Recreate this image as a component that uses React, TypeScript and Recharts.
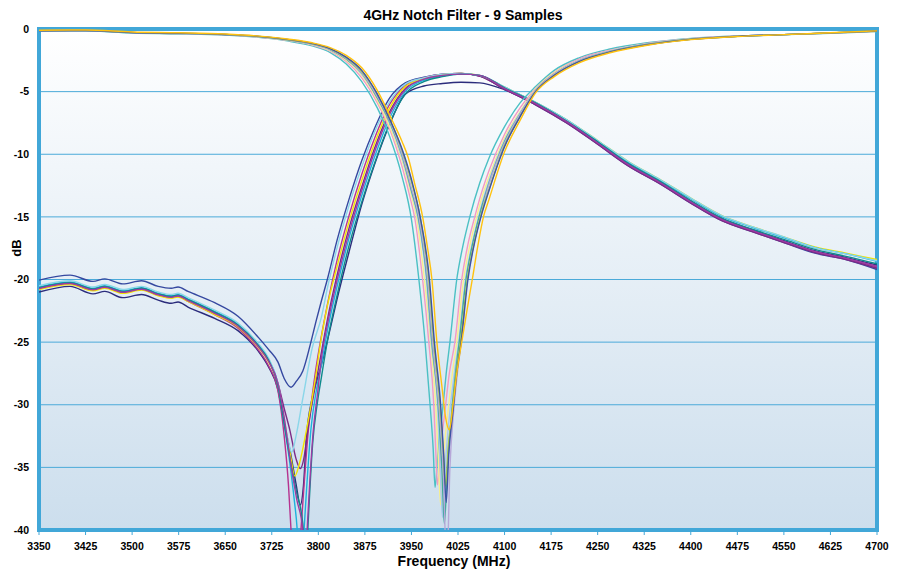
import React from 'react';
import { LineChart, Line, XAxis, YAxis, CartesianGrid, ReferenceArea } from 'recharts';

// frequency grids (MHz)
const X_TICKS = [3350, 3425, 3500, 3575, 3650, 3725, 3800, 3875, 3950, 4025, 4100, 4175, 4250, 4325, 4400, 4475, 4550, 4625, 4700];
const Y_TICKS = [0, -5, -10, -15, -20, -25, -30, -35, -40];

// notch (S21) curves: shared grid left / right of the notch, own points in the notch
const FREQ_A_LEFT = [3350, 3425, 3500, 3575, 3650, 3700, 3750, 3790, 3820, 3845, 3870, 3895, 3915, 3935];
const FREQ_A_RIGHT = [4075, 4100, 4125, 4150, 4180, 4220, 4270, 4330, 4400, 4475, 4550, 4625, 4700];

const A1_LEFT = [-0.18, -0.15, -0.32, -0.38, -0.48, -0.65, -0.95, -1.35, -1.9, -2.8, -4.2, -6.3, -8.6, -11.8];
const A1_NOTCH = [[3950, -15.2], [3962, -20], [3972, -25], [3980, -30], [3985, -33.5], [3988, -36.6], [3993, -33.5], [4000, -30.5], [4006, -27.5], [4012, -25], [4023, -20], [4033, -17.3], [4044, -15], [4060, -12.3]];
const A1_RIGHT = [-10.3, -7.8, -5.9, -4.6, -3.3, -2.3, -1.6, -1.1, -0.75, -0.55, -0.45, -0.35, -0.2];

const A2_LEFT = [-0.16, -0.14, -0.3, -0.37, -0.46, -0.62, -0.9, -1.28, -1.78, -2.6, -3.9, -5.9, -8.0, -11.0];
const A2_NOTCH = [[3950, -13.9], [3955, -15], [3968, -20], [3978, -25], [3986, -30], [3989, -33.5], [3992, -36.4], [3997, -33.5], [4004, -30.5], [4011, -27.5], [4020, -25], [4031, -20], [4041, -17.2], [4052, -15], [4064, -12.9]];
const A2_RIGHT = [-11.3, -8.4, -6.3, -4.75, -3.45, -2.4, -1.7, -1.15, -0.78, -0.56, -0.45, -0.33, -0.19];

const A3_LEFT = [-0.14, -0.12, -0.28, -0.35, -0.45, -0.6, -0.88, -1.24, -1.72, -2.5, -3.7, -5.7, -7.8, -10.5];
const A3_NOTCH = [[3950, -13.3], [3958, -15], [3971, -20], [3981, -25], [3989, -30], [3993, -34], [3997, -38], [4002, -34], [4009, -30.5], [4016, -27.5], [4023, -25], [4034, -20], [4044, -17.3], [4055, -15], [4065, -13.2]];
const A3_RIGHT = [-11.8, -8.7, -6.6, -4.8, -3.5, -2.5, -1.75, -1.2, -0.8, -0.57, -0.45, -0.33, -0.18];

const A4_LEFT = [-0.15, -0.13, -0.29, -0.36, -0.45, -0.6, -0.87, -1.21, -1.68, -2.4, -3.6, -5.5, -7.5, -10.3];
const A4_NOTCH = [[3950, -13], [3960, -15], [3974, -20], [3982, -25], [3992, -30], [3996, -34.5], [4000, -39], [4005, -34.5], [4012, -30.5], [4019, -27.5], [4026, -25], [4037, -20], [4047, -17.3], [4058, -15], [4066, -13.5]];
const A4_RIGHT = [-12.1, -8.9, -6.7, -4.9, -3.6, -2.5, -1.75, -1.2, -0.8, -0.58, -0.45, -0.32, -0.17];

const A5_LEFT = [-0.16, -0.14, -0.3, -0.36, -0.46, -0.59, -0.86, -1.2, -1.66, -2.4, -3.5, -5.5, -7.4, -10.1];
const A5_NOTCH = [[3950, -12.9], [3961, -15], [3975, -20], [3983, -25], [3993, -30], [3999, -35], [4003, -39.5], [4008, -35], [4015, -30.5], [4021, -27.5], [4027, -25], [4038, -20], [4048, -17.3], [4059, -15]];
const A5_RIGHT = [-12.3, -9.0, -6.8, -4.9, -3.6, -2.55, -1.8, -1.22, -0.81, -0.58, -0.45, -0.32, -0.17];

const A6_LEFT = [-0.14, -0.12, -0.28, -0.34, -0.44, -0.59, -0.85, -1.19, -1.64, -2.35, -3.5, -5.4, -7.3, -10.0];
const A6_NOTCH = [[3950, -12.7], [3962, -15], [3976, -20], [3984, -25], [3994, -30], [4001, -35], [4007, -43], [4012, -35], [4018, -30.5], [4024, -27.5], [4030, -25], [4040, -20], [4050, -17.3], [4061, -15]];
const A6_RIGHT = [-12.4, -9.1, -6.8, -4.9, -3.6, -2.55, -1.8, -1.23, -0.81, -0.58, -0.45, -0.32, -0.17];

const A7_LEFT = [-0.13, -0.11, -0.27, -0.33, -0.43, -0.58, -0.84, -1.16, -1.6, -2.3, -3.4, -5.2, -7.2, -9.7];
const A7_NOTCH = [[3950, -12.2], [3964, -15], [3978, -20], [3986, -25], [3996, -30], [4001, -33.5], [4005, -36.5], [4009, -33.5], [4016, -30.5], [4022, -27.5], [4029, -25], [4040, -20], [4050, -17.3], [4061, -15]];
const A7_RIGHT = [-12.8, -9.3, -7.0, -5.0, -3.7, -2.6, -1.83, -1.25, -0.82, -0.59, -0.45, -0.31, -0.16];

const A8_LEFT = [-0.14, -0.12, -0.28, -0.34, -0.44, -0.57, -0.83, -1.15, -1.58, -2.25, -3.3, -5.2, -7.2, -9.6];
const A8_NOTCH = [[3950, -12.0], [3964, -15], [3979, -20], [3987, -25], [3997, -30], [4002, -34], [4006, -37.8], [4010, -34], [4017, -30.5], [4023, -27.5], [4030, -25], [4041, -20], [4052, -17], [4062, -15]];
const A8_RIGHT = [-12.9, -9.4, -7.0, -5.0, -3.7, -2.6, -1.84, -1.26, -0.83, -0.59, -0.45, -0.31, -0.16];

const A9_LEFT = [-0.1, -0.08, -0.24, -0.3, -0.4, -0.55, -0.8, -1.1, -1.5, -2.1, -3.1, -4.9, -6.9, -9.0];
const A9_NOTCH = [[3945, -10.3], [3955, -12.3], [3968, -15], [3976, -17.5], [3983, -20], [3991, -25], [3999, -28.5], [4005, -31], [4011, -32], [4017, -30], [4023, -27.5], [4031, -25], [4040, -22.3], [4048, -20], [4057, -17.3], [4066, -15]];
const A9_RIGHT = [-13.6, -9.8, -7.3, -5.1, -3.8, -2.7, -1.9, -1.3, -0.85, -0.6, -0.45, -0.3, -0.15];

// return-loss style curves: shared grid, own points around the low dip
const FREQ_B_LEFT = [3350, 3400, 3437, 3456, 3485, 3515, 3542, 3563, 3574, 3590, 3633, 3671, 3703, 3720];
const FREQ_B_RIGHT = [3805, 3815, 3830, 3850, 3870, 3890, 3915, 3940, 3970, 4000, 4030, 4060, 4100, 4150, 4200, 4250, 4300, 4350, 4400, 4450, 4500, 4550, 4600, 4650, 4700];

const B1_LEFT = [-20.05, -19.65, -20.15, -19.95, -20.35, -20.1, -20.55, -20.7, -20.6, -20.95, -21.85, -22.95, -24.6, -25.6];
const B1_DIP = [[3735, -26.6], [3745, -27.9], [3756, -28.6], [3765, -28.1], [3775, -27.3], [3787, -25.2], [3797, -23.2]];
const B1_RIGHT = [-21.7, -19.9, -16.9, -13.5, -10.5, -8.0, -5.5, -4.3, -3.85, -3.6, -3.55, -3.75, -4.8, -6.05, -7.5, -9.2, -10.95, -12.35, -13.9, -15.3, -16.2, -17.05, -17.9, -18.4, -19.2];

const B2_LEFT = [-21.0, -20.55, -21.15, -20.95, -21.45, -21.2, -21.65, -21.9, -21.8, -22.2, -23.1, -24.1, -25.7, -27.0];
const B2_DIP = [[3735, -28.8], [3745, -31.5], [3755, -33.8], [3764, -36.3], [3771, -38], [3776, -36.5], [3781, -32.5], [3790, -29.5], [3798, -28]];
const B2_RIGHT = [-26.8, -24.8, -21.6, -17.7, -14.0, -10.9, -7.6, -5.2, -4.55, -4.35, -4.25, -4.3, -4.85, -6.0, -7.4, -9.1, -10.8, -12.2, -13.75, -15.15, -16.05, -16.9, -17.7, -18.25, -18.85];

const B3_LEFT = [-20.75, -20.35, -20.85, -20.65, -21.05, -20.8, -21.25, -21.45, -21.35, -21.75, -22.8, -23.9, -25.6, -26.9];
const B3_DIP = [[3735, -28.9], [3745, -32.5], [3752, -36.5], [3756, -40], [3764, -46], [3772, -40], [3784, -32], [3795, -27.5]];
const B3_RIGHT = [-24.5, -21.9, -18.5, -14.8, -11.6, -8.8, -6.0, -4.5, -3.9, -3.6, -3.55, -3.75, -4.8, -6.0, -7.45, -9.15, -10.9, -12.3, -13.85, -15.25, -16.15, -17.0, -17.8, -18.35, -19.0];

const B4_LEFT = [-20.7, -20.3, -20.8, -20.6, -21.0, -20.75, -21.2, -21.4, -21.3, -21.65, -22.6, -23.6, -25.2, -26.4];
const B4_DIP = [[3735, -28.3], [3745, -30.3], [3754, -32], [3764, -34.3], [3771, -35.1], [3777, -34.2], [3783, -32], [3795, -28.5]];
const B4_RIGHT = [-25.8, -23.1, -19.7, -15.8, -12.6, -9.6, -6.6, -4.75, -4.0, -3.65, -3.55, -3.75, -4.8, -6.05, -7.5, -9.2, -10.95, -12.35, -13.9, -15.3, -16.2, -17.05, -17.85, -18.4, -19.1];

const B5_LEFT = [-20.8, -20.4, -20.9, -20.7, -21.1, -20.85, -21.3, -21.5, -21.4, -21.75, -22.8, -23.8, -25.4, -26.6];
const B5_DIP = [[3735, -28.4], [3745, -31.2], [3755, -34], [3762, -35.7], [3770, -34.6], [3781, -32], [3795, -28]];
const B5_RIGHT = [-24.6, -22.0, -19.0, -15.3, -12.1, -9.2, -6.3, -4.6, -3.95, -3.65, -3.55, -3.7, -4.65, -5.85, -7.25, -8.9, -10.6, -12.0, -13.5, -14.9, -15.8, -16.6, -17.4, -17.9, -18.4];

const B6_LEFT = [-20.6, -20.2, -20.7, -20.5, -20.9, -20.65, -21.1, -21.3, -21.2, -21.55, -22.55, -23.6, -25.2, -26.4];
const B6_DIP = [[3735, -28.4], [3745, -31.5], [3755, -35], [3761, -37.5], [3766, -40], [3771, -45], [3777, -40], [3788, -32], [3797, -28.8]];
const B6_RIGHT = [-26.8, -24.0, -20.6, -16.6, -13.3, -10.3, -7.1, -5.0, -4.1, -3.75, -3.6, -3.7, -4.65, -5.85, -7.25, -8.95, -10.65, -12.05, -13.55, -14.95, -15.85, -16.65, -17.45, -17.95, -18.55];

const B7_LEFT = [-20.5, -20.1, -20.6, -20.4, -20.8, -20.55, -21.0, -21.2, -21.1, -21.45, -22.45, -23.5, -25.1, -26.3];
const B7_DIP = [[3735, -28.3], [3745, -31.2], [3752, -33], [3757, -33.8], [3764, -32.5], [3775, -29.5], [3790, -25.5]];
const B7_RIGHT = [-23.0, -20.6, -17.5, -14.0, -11.0, -8.3, -5.8, -4.4, -3.9, -3.6, -3.55, -3.7, -4.65, -5.85, -7.25, -8.9, -10.6, -12.0, -13.5, -14.9, -15.8, -16.6, -17.45, -17.95, -18.5];

const B8_LEFT = [-20.65, -20.25, -20.75, -20.55, -20.95, -20.7, -21.15, -21.35, -21.25, -21.6, -22.6, -23.65, -25.25, -26.45];
const B8_DIP = [[3735, -28.5], [3745, -31.5], [3755, -34.5], [3765, -37], [3775, -39.5], [3779, -44], [3783, -40], [3791, -33], [3798, -30]];
const B8_RIGHT = [-27.8, -24.8, -21.3, -17.2, -13.8, -10.8, -7.5, -5.2, -4.2, -3.8, -3.6, -3.7, -4.7, -5.9, -7.35, -9.0, -10.75, -12.15, -13.7, -15.1, -16.0, -16.8, -17.6, -18.15, -18.75];

const B9_LEFT = [-20.72, -20.32, -20.82, -20.62, -21.02, -20.78, -21.22, -21.42, -21.32, -21.68, -22.7, -23.75, -25.35, -26.55];
const B9_DIP = [[3735, -28.3], [3745, -31], [3755, -34.5], [3765, -37.5], [3775, -40], [3778, -44], [3782, -40], [3792, -32], [3799, -29]];
const B9_RIGHT = [-26.3, -23.5, -20.1, -16.2, -12.9, -9.9, -6.8, -4.85, -4.0, -3.7, -3.6, -3.7, -4.75, -5.95, -7.4, -9.1, -10.85, -12.25, -13.8, -15.2, -16.1, -16.95, -17.75, -18.3, -18.95];

type Pt = { f: number; v: number };

function build(leftF: number[], left: number[], mid: number[][], rightF: number[], right: number[]): Pt[] {
  return [
    ...leftF.map((f, i) => ({ f, v: left[i] })),
    ...mid.map(([f, v]) => ({ f, v })),
    ...rightF.map((f, i) => ({ f, v: right[i] })),
  ];
}

const RETURN_SERIES = [
  { id: 'b1', color: '#3548A0', data: build(FREQ_B_LEFT, B1_LEFT, B1_DIP, FREQ_B_RIGHT, B1_RIGHT) },
  { id: 'b2', color: '#2B2C7C', data: build(FREQ_B_LEFT, B2_LEFT, B2_DIP, FREQ_B_RIGHT, B2_RIGHT) },
  { id: 'b3', color: '#B6338F', data: build(FREQ_B_LEFT, B3_LEFT, B3_DIP, FREQ_B_RIGHT, B3_RIGHT) },
  { id: 'b4', color: '#7D2A86', data: build(FREQ_B_LEFT, B4_LEFT, B4_DIP, FREQ_B_RIGHT, B4_RIGHT) },
  { id: 'b5', color: '#F2E400', data: build(FREQ_B_LEFT, B5_LEFT, B5_DIP, FREQ_B_RIGHT, B5_RIGHT) },
  { id: 'b6', color: '#1DB2DD', data: build(FREQ_B_LEFT, B6_LEFT, B6_DIP, FREQ_B_RIGHT, B6_RIGHT) },
  { id: 'b7', color: '#8AD6E9', data: build(FREQ_B_LEFT, B7_LEFT, B7_DIP, FREQ_B_RIGHT, B7_RIGHT) },
  { id: 'b8', color: '#0E8A8C', data: build(FREQ_B_LEFT, B8_LEFT, B8_DIP, FREQ_B_RIGHT, B8_RIGHT) },
  { id: 'b9', color: '#9A3DA3', data: build(FREQ_B_LEFT, B9_LEFT, B9_DIP, FREQ_B_RIGHT, B9_RIGHT) },
];

const NOTCH_SERIES = [
  { id: 'a1', color: '#4BC0C4', data: build(FREQ_A_LEFT, A1_LEFT, A1_NOTCH, FREQ_A_RIGHT, A1_RIGHT) },
  { id: 'a2', color: '#F39AC2', data: build(FREQ_A_LEFT, A2_LEFT, A2_NOTCH, FREQ_A_RIGHT, A2_RIGHT) },
  { id: 'a3', color: '#F8EF8C', data: build(FREQ_A_LEFT, A3_LEFT, A3_NOTCH, FREQ_A_RIGHT, A3_RIGHT) },
  { id: 'a4', color: '#A6C8EC', data: build(FREQ_A_LEFT, A4_LEFT, A4_NOTCH, FREQ_A_RIGHT, A4_RIGHT) },
  { id: 'a5', color: '#3FA99B', data: build(FREQ_A_LEFT, A5_LEFT, A5_NOTCH, FREQ_A_RIGHT, A5_RIGHT) },
  { id: 'a6', color: '#B7A7D8', data: build(FREQ_A_LEFT, A6_LEFT, A6_NOTCH, FREQ_A_RIGHT, A6_RIGHT) },
  { id: 'a7', color: '#9CC94A', data: build(FREQ_A_LEFT, A7_LEFT, A7_NOTCH, FREQ_A_RIGHT, A7_RIGHT) },
  { id: 'a8', color: '#3F51A5', data: build(FREQ_A_LEFT, A8_LEFT, A8_NOTCH, FREQ_A_RIGHT, A8_RIGHT) },
  { id: 'a9', color: '#FFC20E', data: build(FREQ_A_LEFT, A9_LEFT, A9_NOTCH, FREQ_A_RIGHT, A9_RIGHT) },
];

const FONT = '"Liberation Sans", Arial, sans-serif';
const BORDER = '#41A7D8';
const tickStyle = { fontSize: 10.5, fontWeight: 700, fill: '#000', fontFamily: FONT };

export default function App() {
  return (
    <div style={{ position: 'absolute', left: 0, top: 0, width: 897, height: 573, background: '#fff', fontFamily: FONT }}>
      <div style={{ position: 'absolute', left: 263, top: 7, width: 400, textAlign: 'center', fontSize: 14, fontWeight: 700, lineHeight: '16px' }}>
        4GHz Notch Filter - 9 Samples
      </div>
      <LineChart width={897} height={573} margin={{ top: 29, right: 20, bottom: 13, left: 0 }}>
        <defs>
          <linearGradient id="plotBg" x1="0" y1="0" x2="0" y2="1">
            <stop offset="0%" stopColor="#FFFFFF" />
            <stop offset="100%" stopColor="#CCDEED" />
          </linearGradient>
        </defs>
        <CartesianGrid vertical={false} stroke="#4BAAD9" strokeWidth={1} fill="url(#plotBg)" fillOpacity={1} />
        <XAxis
          dataKey="f"
          type="number"
          domain={[3350, 4700]}
          ticks={X_TICKS}
          allowDataOverflow
          axisLine={false}
          tickLine={{ stroke: BORDER, strokeWidth: 1 }}
          tickSize={5}
          tickMargin={8}
          height={30}
          tick={tickStyle}
          interval={0}
        />
        <YAxis
          type="number"
          domain={[-40, 0]}
          ticks={Y_TICKS}
          allowDataOverflow
          axisLine={false}
          tickLine={false}
          tickSize={0}
          tickMargin={10}
          width={39}
          tick={tickStyle}
          interval={0}
        />
        {RETURN_SERIES.map((s) => (
          <Line key={s.id} data={s.data} dataKey="v" type="monotone" stroke={s.color} strokeWidth={1.4} dot={false} activeDot={false} isAnimationActive={false} />
        ))}
        {NOTCH_SERIES.map((s) => (
          <Line key={s.id} data={s.data} dataKey="v" type="monotone" stroke={s.color} strokeWidth={1.4} dot={false} activeDot={false} isAnimationActive={false} />
        ))}
        <ReferenceArea x1={3350} x2={4700} y1={-40} y2={0} fill="none" stroke={BORDER} strokeWidth={4} />
      </LineChart>
      <div style={{ position: 'absolute', left: 0, top: 239, width: 34, height: 18, transform: 'rotate(-90deg)', transformOrigin: '17px 9px', textAlign: 'center', fontSize: 13, fontWeight: 700, lineHeight: '18px' }}>
        dB
      </div>
      <div style={{ position: 'absolute', left: 254, top: 553, width: 400, textAlign: 'center', fontSize: 14, fontWeight: 700, lineHeight: '16px' }}>
        Frequency (MHz)
      </div>
    </div>
  );
}
